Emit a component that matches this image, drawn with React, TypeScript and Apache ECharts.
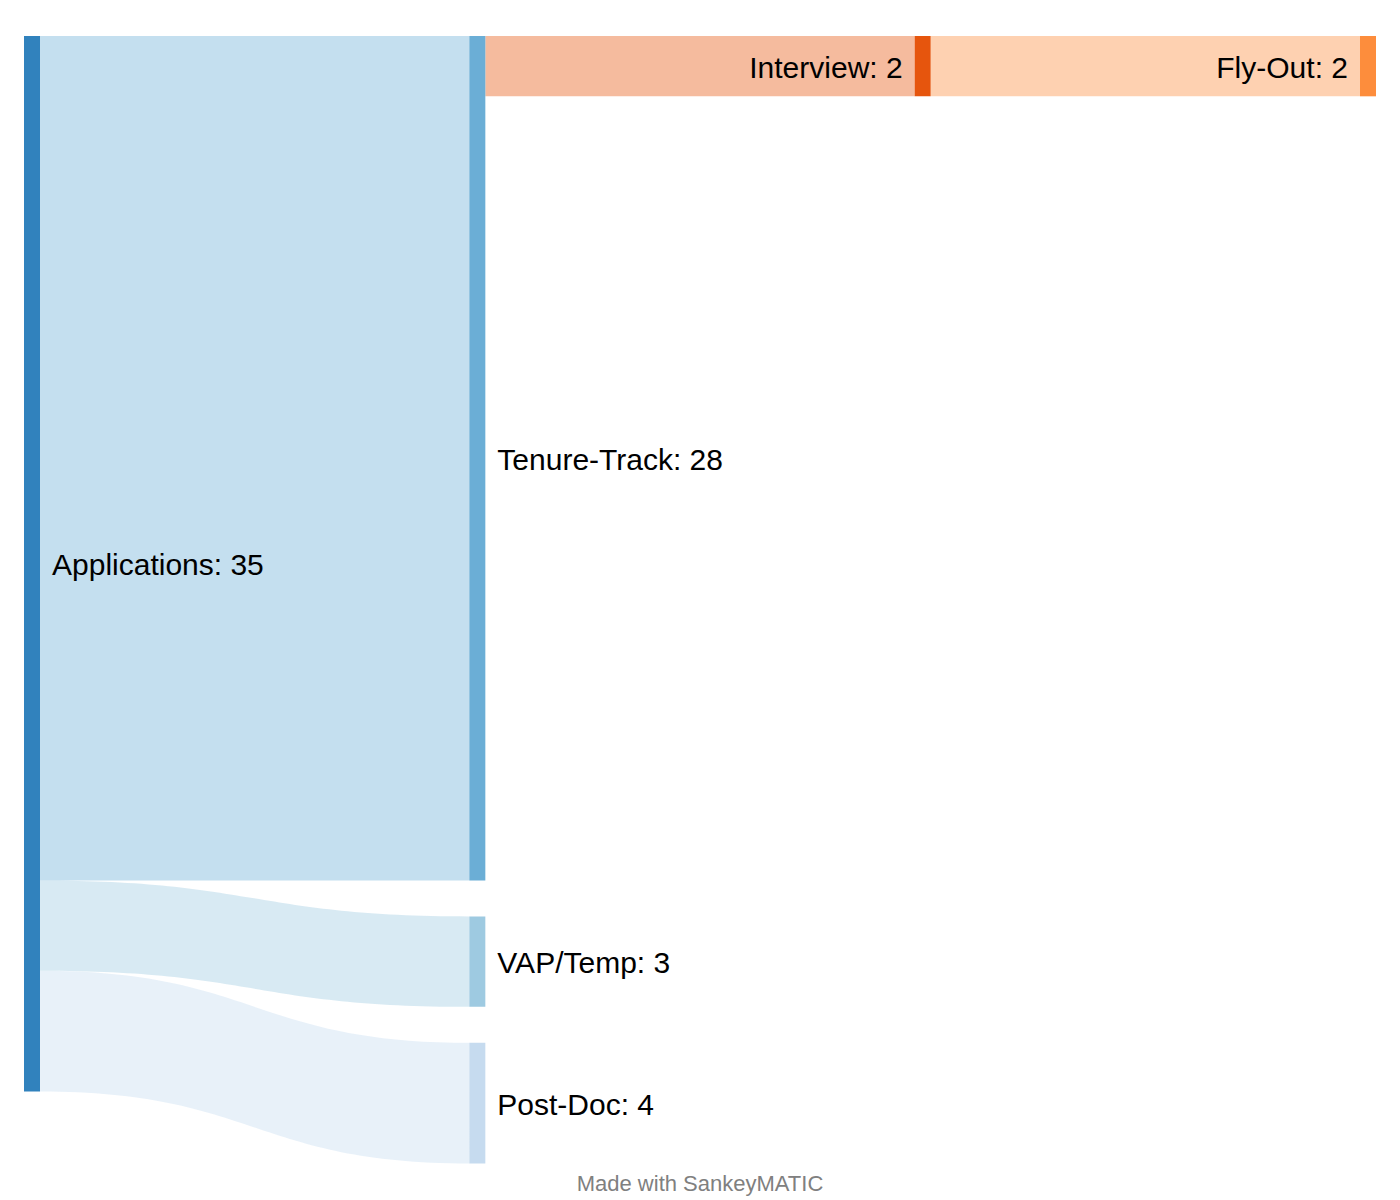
import React, { useEffect, useRef } from "react";
import * as echarts from "echarts";

const nodeNames = ["Applications", "Tenure-Track", "VAP/Temp", "Post-Doc", "Interview", "Fly-Out"];
const nodeColors = ["#3182bd", "#6baed6", "#9ecae1", "#c6dbef", "#e6550d", "#fd8d3c"];
const leftLabelNodes = ["Interview", "Fly-Out"];

const linkSources = ["Applications", "Applications", "Applications", "Tenure-Track", "Interview"];
const linkTargets = ["Tenure-Track", "VAP/Temp", "Post-Doc", "Interview", "Fly-Out"];
const linkValues = [28, 3, 4, 2, 2];

const footerText = "Made with SankeyMATIC";

export default function App() {
  const ref = useRef<HTMLDivElement>(null);
  useEffect(() => {
    if (!ref.current) return;
    const chart = echarts.init(ref.current, undefined, { renderer: "svg" });
    const nodes = nodeNames.map((name, i) => ({
      name,
      itemStyle: { color: nodeColors[i], borderWidth: 0 },
      label: leftLabelNodes.includes(name) ? { position: "left" } : { position: "right" },
    }));
    const links = linkSources.map((s, i) => ({
      source: s,
      target: linkTargets[i],
      value: linkValues[i],
    }));
    chart.setOption({
      animation: false,
      backgroundColor: "#ffffff",
      series: [
        {
          type: "sankey",
          left: 24,
          right: 24,
          top: 36,
          bottom: 36.5,
          nodeWidth: 16,
          nodeGap: 36,
          nodeAlign: "left",
          layoutIterations: 0,
          draggable: false,
          emphasis: { disabled: true },
          data: nodes,
          links,
          lineStyle: { color: "target", opacity: 0.4, curveness: 0.5 },
          label: {
            show: true,
            color: "#000000",
            fontFamily: "Liberation Sans, Arial, Helvetica, sans-serif",
            fontSize: 30,
            distance: 12,
            offset: [0, 1],
            formatter: (p: any) => `${p.name}: ${p.value}`,
          },
        },
      ],
      graphic: [
        {
          type: "text",
          x: 700,
          y: 1183,
          style: {
            text: footerText,
            fill: "#808080",
            fontSize: 22,
            fontFamily: "Liberation Sans, Arial, Helvetica, sans-serif",
            textAlign: "center",
            textVerticalAlign: "middle",
          },
        },
      ],
    });
    return () => chart.dispose();
  }, []);
  return (
    <div
      ref={ref}
      style={{ position: "absolute", left: 0, top: 0, width: 1400, height: 1200 }}
    />
  );
}
